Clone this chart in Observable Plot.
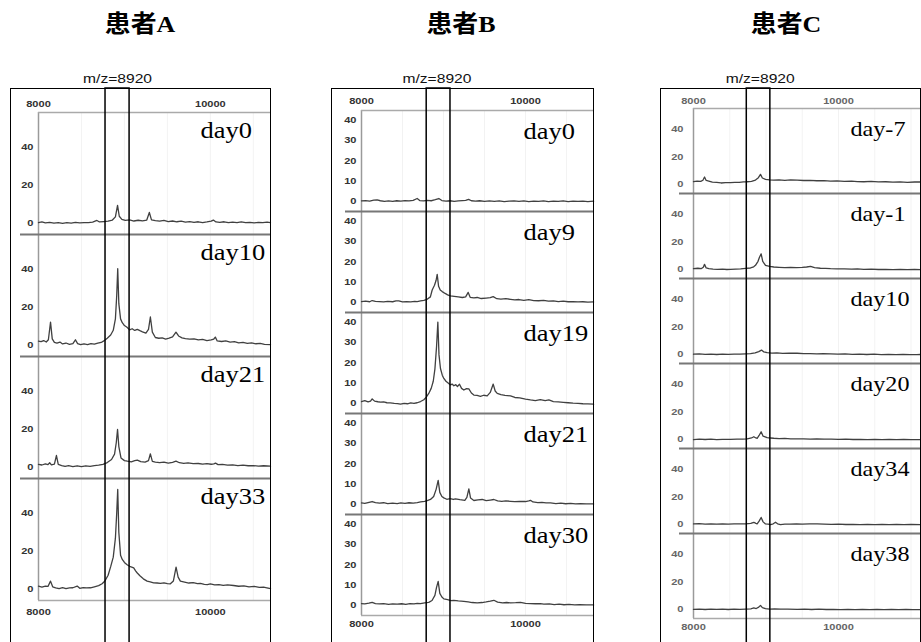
<!DOCTYPE html>
<html><head><meta charset="utf-8">
<script src="https://cdn.jsdelivr.net/npm/d3@7"></script>
<script src="https://cdn.jsdelivr.net/npm/@observablehq/plot@0.6"></script>
<style>
html,body{margin:0;padding:0;background:#fff}
body{position:relative;width:921px;height:642px;overflow:hidden;font-family:"Liberation Sans",Arial,sans-serif}
.abs{position:absolute}
.title{font-family:"Liberation Serif","Noto Sans CJK SC",serif;font-weight:bold;font-size:24px;line-height:24px;width:140px;text-align:center;transform:scaleX(1.08);transform-origin:center top}
.box{border:1.5px solid #000;border-bottom:none;box-sizing:border-box}
</style></head><body>
<script>
// ---------- data ----------
const patients = ["患者A", "患者B", "患者C"];
const peakMz = 8920;
const xTicks = [8000, 10000];
const gridTicks = [8500, 9000, 9500, 10000, 10500, 11000];
const daysA = ["day0", "day10", "day21", "day33"];
const daysB = ["day0", "day9", "day19", "day21", "day30"];
const daysC = ["day-7", "day-1", "day10", "day20", "day34", "day38"];
const yTicksA = [0, 20, 40];
const yTicksB = [0, 10, 20, 30, 40];
const yTicksC = [0, 20, 40];
const bandA = [8780, 9060];
const bandB = [8795, 9085];
const bandC = [8735, 9060];

const A_day0 = [[8000,0.5],[8040,0.8],[8080,0.3],[8130,0.6],[8180,0.2],[8230,0.5],[8280,0.1],[8330,0.4],[8380,0.2],[8430,0.6],[8480,0.3],[8530,0.5],[8580,0.4],[8630,0.7],[8680,1.6],[8710,0.8],[8760,1.0],[8810,1.2],[8860,1.8],[8895,3.5],[8920,9.5],[8940,3.8],[8970,2.2],[9010,1.6],[9060,1.9],[9110,1.3],[9160,1.7],[9210,1.4],[9260,1.8],[9290,5.8],[9315,1.9],[9360,1.5],[9410,1.2],[9460,1.6],[9510,1.0],[9560,1.3],[9610,0.9],[9660,1.2],[9710,0.7],[9760,1.0],[9810,0.6],[9860,0.9],[9910,0.5],[9960,0.8],[10010,1.2],[10035,1.8],[10065,0.8],[10110,0.6],[10160,0.9],[10210,0.4],[10260,0.7],[10310,0.5],[10360,0.8],[10410,0.4],[10460,0.6],[10510,0.3],[10560,0.6],[10610,0.4],[10660,0.7],[10700,0.5]];
const A_day10 = [[8000,2.3],[8030,2.0],[8060,2.6],[8090,1.8],[8115,3.0],[8140,12.3],[8160,3.5],[8185,1.6],[8215,1.2],[8250,1.8],[8280,0.8],[8320,1.3],[8360,0.6],[8400,1.0],[8430,3.0],[8455,1.0],[8490,0.4],[8530,0.8],[8570,0.5],[8610,1.0],[8650,0.7],[8690,1.2],[8730,1.6],[8760,2.4],[8800,3.8],[8840,5.5],[8870,8.0],[8895,14],[8910,26],[8922,40.4],[8935,22],[8955,14],[8975,12],[9000,10.5],[9030,9.6],[9060,8.2],[9090,8.8],[9120,7.9],[9150,8.5],[9180,7.8],[9210,7.2],[9250,6.5],[9280,8.5],[9302,15],[9325,7],[9360,4.2],[9400,3.8],[9440,4.0],[9480,3.4],[9520,3.9],[9560,4.5],[9600,7.0],[9630,5.0],[9670,4.0],[9710,3.6],[9760,3.3],[9810,3.5],[9860,2.9],[9910,3.2],[9960,2.6],[10010,2.9],[10040,3.4],[10058,4.4],[10080,2.4],[10130,2.1],[10180,2.4],[10230,1.8],[10280,2.0],[10330,1.4],[10380,1.6],[10430,1.1],[10480,1.4],[10530,0.9],[10580,1.1],[10630,0.6],[10700,0.4]];
const A_day21 = [[8000,1.6],[8040,1.3],[8080,1.9],[8110,1.5],[8130,2.5],[8150,1.4],[8185,1.8],[8209,6.3],[8230,1.6],[8270,1.0],[8310,0.6],[8350,1.0],[8400,0.5],[8450,0.9],[8500,0.4],[8550,0.8],[8600,0.6],[8650,1.0],[8700,1.2],[8750,1.6],[8800,2.6],[8850,4.2],[8885,7],[8905,13],[8920,20],[8935,11],[8960,5],[9000,3.6],[9035,3.3],[9080,3.0],[9120,3.6],[9150,3.9],[9190,3.1],[9240,2.8],[9280,3.6],[9302,7.2],[9325,3.2],[9360,2.8],[9410,2.5],[9460,2.8],[9510,2.3],[9560,2.7],[9600,3.3],[9640,2.5],[9690,2.2],[9740,2.4],[9800,2.0],[9860,2.1],[9910,1.8],[9960,2.0],[10010,1.7],[10040,1.9],[10060,2.3],[10090,1.5],[10140,1.6],[10200,1.2],[10260,1.4],[10320,1.0],[10380,1.2],[10440,0.9],[10500,1.0],[10560,0.7],[10620,0.9],[10700,0.7]];
const A_day33 = [[8000,1.8],[8040,1.3],[8080,1.8],[8110,1.6],[8140,4.4],[8165,1.4],[8200,0.9],[8240,0.5],[8280,1.0],[8320,0.4],[8360,0.8],[8400,0.9],[8450,1.8],[8480,0.6],[8520,1.0],[8560,0.8],[8605,0.9],[8650,1.4],[8700,2.0],[8740,3.0],[8770,4.3],[8810,7.5],[8840,12],[8870,17],[8895,27],[8910,40],[8922,52.6],[8935,30],[8955,18],[8975,15.8],[9000,14.2],[9031,13],[9060,12.2],[9085,11.8],[9108,11.4],[9130,9.8],[9147,8.8],[9180,7.2],[9220,5.6],[9264,4.4],[9300,4.0],[9340,3.5],[9380,3.4],[9419,3.2],[9460,3.5],[9500,3.1],[9535,3.0],[9570,4.5],[9601,11.8],[9625,6.5],[9651,4.4],[9700,3.9],[9750,3.4],[9800,3.6],[9850,3.1],[9884,3.2],[9930,2.7],[9965,2.6],[10000,3.0],[10050,2.4],[10100,2.6],[10150,2.2],[10200,2.4],[10270,2.1],[10330,1.7],[10390,1.9],[10450,1.4],[10510,1.6],[10570,1.1],[10620,1.2],[10658,0.9],[10700,0.5]];

const B_day0 = [[8000,0.3],[8050,0.5],[8100,0.2],[8150,0.7],[8191,0.8],[8230,0.4],[8280,0.1],[8330,0.3],[8380,0.1],[8430,0.4],[8480,0.2],[8530,0.5],[8580,0.3],[8630,0.6],[8679,1.5],[8710,0.5],[8760,0.3],[8800,0.6],[8850,0.4],[8900,0.9],[8943,1.5],[8980,0.5],[9030,0.2],[9080,0.4],[9130,0.1],[9180,0.3],[9230,0.5],[9270,0.6],[9306,1.1],[9340,0.4],[9390,0.2],[9440,0.4],[9500,0.1],[9560,0.3],[9620,0.1],[9680,0.3],[9740,0.0],[9800,0.2],[9860,0.3],[9920,0.1],[9980,0.3],[10040,0.0],[10100,0.2],[10160,0.1],[10220,0.3],[10280,0.0],[10340,0.2],[10400,0.1],[10460,0.3],[10520,0.0],[10580,0.2],[10640,0.1],[10700,0.2],[10760,0.0],[10830,0.2]];
const B_day9 = [[8000,0.5],[8050,0.7],[8100,0.4],[8130,1.0],[8170,0.6],[8220,0.5],[8270,0.3],[8320,0.6],[8380,0.4],[8420,0.8],[8455,0.8],[8500,0.3],[8550,0.5],[8600,0.3],[8650,0.6],[8679,0.5],[8720,0.8],[8760,1.1],[8800,1.6],[8840,2.8],[8862,6.2],[8890,8.5],[8910,11],[8923,13.9],[8940,8],[8960,6.2],[8984,5.4],[9020,4.5],[9050,3.8],[9085,3.3],[9130,3.1],[9180,2.8],[9230,2.5],[9270,2.8],[9301,5.0],[9325,2.6],[9370,2.3],[9411,2.5],[9460,2.0],[9520,2.2],[9570,2.4],[9606,2.9],[9650,1.9],[9700,1.7],[9760,1.9],[9817,1.6],[9870,1.3],[9920,1.5],[9980,1.1],[10040,1.4],[10100,1.0],[10160,0.9],[10220,1.1],[10280,0.7],[10340,0.8],[10400,0.5],[10460,0.7],[10520,0.4],[10580,0.5],[10640,0.3],[10700,0.4],[10760,0.2],[10830,0.3]];
const B_day19 = [[8000,1.0],[8040,1.4],[8080,0.8],[8110,1.2],[8130,2.3],[8160,1.2],[8200,0.9],[8232,0.7],[8270,0.8],[8310,0.4],[8350,0.3],[8400,0.1],[8440,0.0],[8476,-0.3],[8520,0.1],[8560,-0.1],[8600,0.3],[8640,0.1],[8679,0.4],[8720,1.0],[8760,1.9],[8790,3.2],[8820,5],[8850,7.5],[8875,11],[8895,17],[8915,28],[8931,40.2],[8945,24],[8963,17.3],[8985,14],[9004,12.4],[9030,11],[9060,10],[9085,9.2],[9105,9.6],[9126,8.8],[9150,9.3],[9170,8.4],[9195,9.5],[9220,7.5],[9248,6.7],[9280,7.4],[9309,7.2],[9340,5.2],[9370,4.2],[9410,4.0],[9450,3.6],[9490,4.1],[9533,3.8],[9570,5.5],[9606,9.6],[9630,6.2],[9655,5.0],[9700,4.4],[9750,4.0],[9817,3.8],[9870,3.0],[9930,2.8],[10000,2.2],[10061,1.8],[10120,1.5],[10180,1.9],[10240,1.4],[10285,1.8],[10340,1.0],[10400,0.8],[10460,0.6],[10520,0.4],[10580,0.2],[10640,0.1],[10700,-0.1],[10760,-0.2],[10830,-0.3]];
const B_day21 = [[8000,0.8],[8040,0.6],[8080,1.0],[8130,1.5],[8170,1.0],[8220,0.7],[8270,0.9],[8320,0.5],[8380,0.7],[8435,0.5],[8480,0.8],[8530,0.6],[8580,0.9],[8630,0.7],[8680,1.0],[8720,1.3],[8770,1.6],[8810,2.1],[8841,2.5],[8880,4.0],[8910,7.5],[8935,11.9],[8955,6],[8980,4],[9004,3.3],[9040,2.6],[9080,2.9],[9120,2.5],[9146,2.8],[9200,2.4],[9260,2.1],[9285,3.5],[9309,7.7],[9330,3.2],[9370,2.0],[9420,2.3],[9472,2.5],[9520,1.9],[9570,2.2],[9614,2.5],[9660,1.8],[9710,1.6],[9760,1.8],[9817,1.6],[9870,1.4],[9930,1.6],[10000,1.5],[10040,1.8],[10061,2.1],[10090,1.3],[10150,1.0],[10200,1.1],[10250,0.8],[10305,0.8],[10370,0.5],[10430,0.7],[10490,0.4],[10550,0.6],[10610,0.3],[10670,0.5],[10740,0.3],[10830,0.3]];
const B_day30 = [[8000,1.0],[8040,0.8],[8090,1.2],[8130,1.6],[8170,1.0],[8220,0.8],[8270,1.0],[8330,0.6],[8380,0.8],[8435,0.7],[8490,0.9],[8540,0.6],[8590,1.0],[8640,0.8],[8680,1.1],[8720,1.0],[8770,1.3],[8820,1.6],[8860,2.5],[8895,5],[8915,9],[8935,11.9],[8955,6],[8980,4.2],[9004,3.3],[9050,2.9],[9090,2.4],[9126,2.6],[9180,2.3],[9248,2.1],[9300,1.8],[9350,1.5],[9411,1.3],[9470,1.5],[9520,1.8],[9570,2.2],[9614,2.6],[9660,1.7],[9720,1.3],[9770,1.5],[9817,1.3],[9880,1.4],[9939,1.6],[10000,1.1],[10060,1.0],[10120,0.9],[10180,1.0],[10224,0.7],[10290,0.8],[10350,0.5],[10410,0.7],[10470,0.4],[10530,0.6],[10600,0.3],[10660,0.5],[10740,0.3],[10830,0.3]];

const C_dayM7 = [[8000,2.2],[8050,2.6],[8100,2.4],[8130,3.2],[8152,5.5],[8175,3.0],[8211,2.6],[8260,1.8],[8320,1.6],[8380,1.2],[8440,1.5],[8510,1.4],[8570,1.7],[8630,1.6],[8690,2.0],[8740,2.1],[8800,2.4],[8855,3.3],[8895,5],[8924,7.4],[8950,4.8],[8993,3.8],[9050,3.5],[9108,3.3],[9180,3.4],[9260,3.1],[9340,3.5],[9430,3.3],[9520,3.0],[9610,3.1],[9700,2.8],[9800,2.9],[9890,2.6],[9980,2.7],[10080,2.4],[10180,2.5],[10260,2.2],[10349,2.1],[10450,2.3],[10550,2.0],[10650,2.1],[10750,1.8],[10850,2.0],[10950,1.7],[11050,1.9],[11130,1.9]];
const C_dayM1 = [[8000,0.7],[8060,1.0],[8110,0.8],[8135,1.8],[8152,3.8],[8175,1.2],[8211,0.7],[8270,0.4],[8330,0.2],[8400,0.4],[8460,0.1],[8510,0.2],[8580,0.4],[8650,0.6],[8720,0.9],[8786,1.2],[8830,2.0],[8855,3.1],[8890,6],[8910,9],[8933,11.4],[8955,6],[8993,3.1],[9050,2.4],[9108,1.9],[9180,1.7],[9260,1.5],[9340,1.6],[9420,1.4],[9500,1.6],[9560,1.9],[9614,2.4],[9670,1.4],[9750,1.0],[9820,0.9],[9890,0.7],[9980,0.6],[10080,0.5],[10180,0.4],[10260,0.5],[10349,0.2],[10450,0.3],[10550,0.1],[10650,0.2],[10750,0.0],[10850,0.1],[10950,0.0],[11050,0.1],[11130,0.0]];
const C_day10 = [[8000,0.3],[8080,0.5],[8160,0.2],[8240,0.4],[8320,0.1],[8400,0.3],[8480,0.2],[8560,0.4],[8640,0.3],[8720,0.5],[8786,0.7],[8850,1.2],[8900,2.2],[8938,3.3],[8970,2.0],[9016,1.4],[9080,1.1],[9150,1.3],[9230,0.9],[9320,1.1],[9430,1.0],[9520,0.7],[9610,0.8],[9700,0.5],[9790,0.7],[9890,0.5],[9990,0.3],[10090,0.5],[10190,0.2],[10290,0.4],[10390,0.1],[10490,0.3],[10590,0.0],[10690,0.2],[10790,0.0],[10890,0.1],[10990,0.0],[11080,0.0],[11130,0.1]];
const C_day20 = [[8000,0.0],[8080,0.3],[8160,0.1],[8240,0.3],[8320,0.0],[8400,0.2],[8510,0.2],[8600,0.4],[8680,0.3],[8740,0.5],[8800,1.2],[8832,2.1],[8860,1.2],[8878,1.0],[8905,3.0],[8933,5.7],[8960,2.5],[9016,1.4],[9060,1.2],[9108,1.0],[9180,0.8],[9260,0.9],[9340,0.6],[9430,0.5],[9520,0.6],[9610,0.4],[9700,0.5],[9800,0.3],[9900,0.4],[10000,0.2],[10100,0.3],[10200,0.1],[10300,0.2],[10400,0.0],[10500,0.2],[10600,0.0],[10700,0.1],[10800,0.0],[10900,0.1],[11000,0.0],[11130,0.0]];
const C_day34 = [[8000,0.5],[8080,0.7],[8160,0.4],[8240,0.6],[8320,0.3],[8400,0.5],[8480,0.4],[8560,0.6],[8640,0.5],[8720,0.6],[8790,0.9],[8832,1.7],[8860,0.9],[8878,0.5],[8905,2.5],[8933,5.2],[8960,2.0],[8993,0.5],[9030,0.3],[9062,0.0],[9100,0.6],[9131,1.7],[9160,0.6],[9200,0.0],[9260,0.4],[9330,0.3],[9420,0.5],[9500,0.4],[9600,0.6],[9706,0.5],[9800,0.3],[9900,0.2],[10000,0.3],[10100,0.1],[10200,0.2],[10300,0.0],[10400,0.2],[10500,0.0],[10600,0.1],[10700,0.0],[10800,0.1],[10900,0.0],[11000,0.1],[11130,0.0]];
const C_day38 = [[8000,0.2],[8080,0.4],[8160,0.1],[8240,0.3],[8320,0.2],[8400,0.4],[8480,0.1],[8560,0.3],[8640,0.2],[8720,0.4],[8790,0.6],[8832,1.2],[8865,0.8],[8900,1.8],[8924,3.1],[8950,1.5],[8993,0.7],[9050,0.4],[9120,0.5],[9200,0.3],[9300,0.4],[9430,0.2],[9530,0.3],[9630,0.1],[9730,0.3],[9830,0.1],[9930,0.2],[10030,0.0],[10130,0.2],[10230,0.0],[10330,0.1],[10430,0.0],[10530,0.1],[10630,0.0],[10730,0.1],[10830,0.0],[10930,0.1],[11030,0.0],[11130,0.0]];

// ---------- layout (positions / styles) ----------
const layout = [
  {boxL:10, boxR:271, plotL:38, plotR:270, top:112, bottom:600, xMax:10700, yDomain:[-5.8,58.4], titleX:140,
   labelDx:162, labelDy:9, labelSize:23, padY:5, padTop:6, padBottom:8, tickFill:"#333", sepExt:18},
  {boxL:331, boxR:594, plotL:361, plotR:593, top:108, bottom:616, xMax:10829, yDomain:[-4.9,44.9], titleX:461,
   labelDx:162, labelDy:12, labelSize:23, padY:5, padTop:7, padBottom:5, tickFill:"#333", sepExt:16},
  {boxL:660, boxR:921, plotL:693, plotR:920, top:105, bottom:620, xMax:11131, yDomain:[-6.4,55], titleX:786,
   labelDx:157, labelDy:13, labelSize:21, padY:10, padTop:5, padBottom:5, tickFill:"#666", sepExt:14}
];

const panels = [
  {days: daysA, series: [A_day0, A_day10, A_day21, A_day33], yTicks: yTicksA, band: bandA},
  {days: daysB, series: [B_day0, B_day9, B_day19, B_day21, B_day30], yTicks: yTicksB, band: bandB},
  {days: daysC, series: [C_dayM7, C_dayM1, C_day10, C_day20, C_day34, C_day38], yTicks: yTicksC, band: bandC}
];

function stretch(root, sel, f) {
  root.querySelectorAll(sel).forEach(t => {
    const w = t.getComputedTextLength();
    if (w > 0) { t.setAttribute("textLength", (w * f).toFixed(1)); t.setAttribute("lengthAdjust", "spacingAndGlyphs"); }
  });
}

function place(el, left, top, width) {
  const wrap = document.createElement("div");
  wrap.className = "abs";
  wrap.style.left = left + "px"; wrap.style.top = top + "px"; wrap.style.width = width + "px";
  wrap.appendChild(el);
  document.body.appendChild(wrap);
  return wrap;
}

panels.forEach((P, i) => {
  const L = layout[i];
  const mL = 30, mR = 1, mT = 20, mB = 24;
  const W = mL + (L.plotR - L.plotL) + mR;
  const [y0, y1] = L.yDomain;
  const rows = P.days.flatMap((day, k) => P.series[k].map(([mz, v]) => ({day, mz, v})));
  const last = P.days[P.days.length - 1];
  const grid = gridTicks.filter(t => t < L.xMax);
  const tickStyle = {tickSize: 0, fontSize: 8.5, fontWeight: "bold", fill: L.tickFill, label: null, tickFormat: d => String(d)};

  const chart = Plot.plot({
    width: W, height: mT + (L.bottom - L.top) + mB,
    marginLeft: mL, marginRight: mR, marginTop: mT, marginBottom: mB,
    x: {domain: [8000, L.xMax]},
    y: {domain: L.yDomain},
    fy: {domain: P.days, padding: 0, axis: null},
    style: {background: "transparent", overflow: "visible", fontFamily: "Liberation Sans, Arial, sans-serif"},
    marks: [
      Plot.gridX(grid, {stroke: "#000", strokeOpacity: 0.05}),
      Plot.ruleX([8000], {stroke: "#9a9a9a", strokeWidth: 1.5}),
      Plot.ruleY([{day: P.days[0], y: y1}], {fy: "day", y: "y", stroke: "#aaa", strokeWidth: 1.5}),
      Plot.ruleY(P.days.slice(0, -1).map(day => ({day, y: y0})), {fy: "day", y: "y", stroke: "#777", strokeWidth: 2.2, insetLeft: -L.sepExt}),
      Plot.ruleY([{day: last, y: y0}], {fy: "day", y: "y", stroke: "#aaa", strokeWidth: 1.5}),
      Plot.line(rows, {x: "mz", y: "v", fy: "day", stroke: "#404040", strokeWidth: 1.3}),
      Plot.axisX({anchor: "top", ticks: xTicks, tickPadding: L.padTop, ...tickStyle}),
      Plot.axisX({anchor: "bottom", ticks: xTicks, tickPadding: L.padBottom, ...tickStyle}),
      Plot.axisY({ticks: P.yTicks, tickPadding: L.padY, ...tickStyle}),
      Plot.text(P.days, {fy: d => d, text: d => d, frameAnchor: "top-left", textAnchor: "start", lineAnchor: "top",
        dx: L.labelDx, dy: L.labelDy, fontFamily: "Liberation Serif, Times New Roman, serif", fontSize: L.labelSize, fill: "#000"})
    ]
  });
  place(chart, L.plotL - mL, L.top - mT, W);
  stretch(chart, 'g[aria-label="x-axis tick label"] text, g[aria-label="y-axis tick label"] text', 1.3);
  stretch(chart, 'g[aria-label="text"] text', 1.15);

  // band + m/z label overlay, sharing the same x scale
  const ov = Plot.plot({
    width: W, height: 620, marginLeft: mL, marginRight: mR, marginTop: 28, marginBottom: 0,
    x: {domain: [8000, L.xMax], axis: null},
    style: {background: "transparent", overflow: "visible"},
    marks: [
      Plot.rect([P.band], {x1: d => d[0], x2: d => d[1], fill: "none", stroke: "#000", strokeWidth: 1.5}),
      Plot.text([peakMz], {x: d => d, text: d => `m/z=${d}`, frameAnchor: "top", dy: -14, fontSize: 12,
        fontFamily: "Liberation Sans, Arial, sans-serif", fill: "#111"})
    ]
  });
  place(ov, L.plotL - mL, 60, W);
  stretch(ov, 'g[aria-label="text"] text', 1.3);

  // outer black box
  const box = document.createElement("div");
  box.className = "abs box";
  box.style.left = L.boxL + "px"; box.style.top = "88px";
  box.style.width = (L.boxR - L.boxL) + "px"; box.style.height = "600px";
  document.body.appendChild(box);

  // title
  const t = document.createElement("div");
  t.className = "abs title";
  t.textContent = patients[i];
  t.style.left = (L.titleX - 70) + "px"; t.style.top = "12px";
  document.body.appendChild(t);
});
</script>
</body></html>
